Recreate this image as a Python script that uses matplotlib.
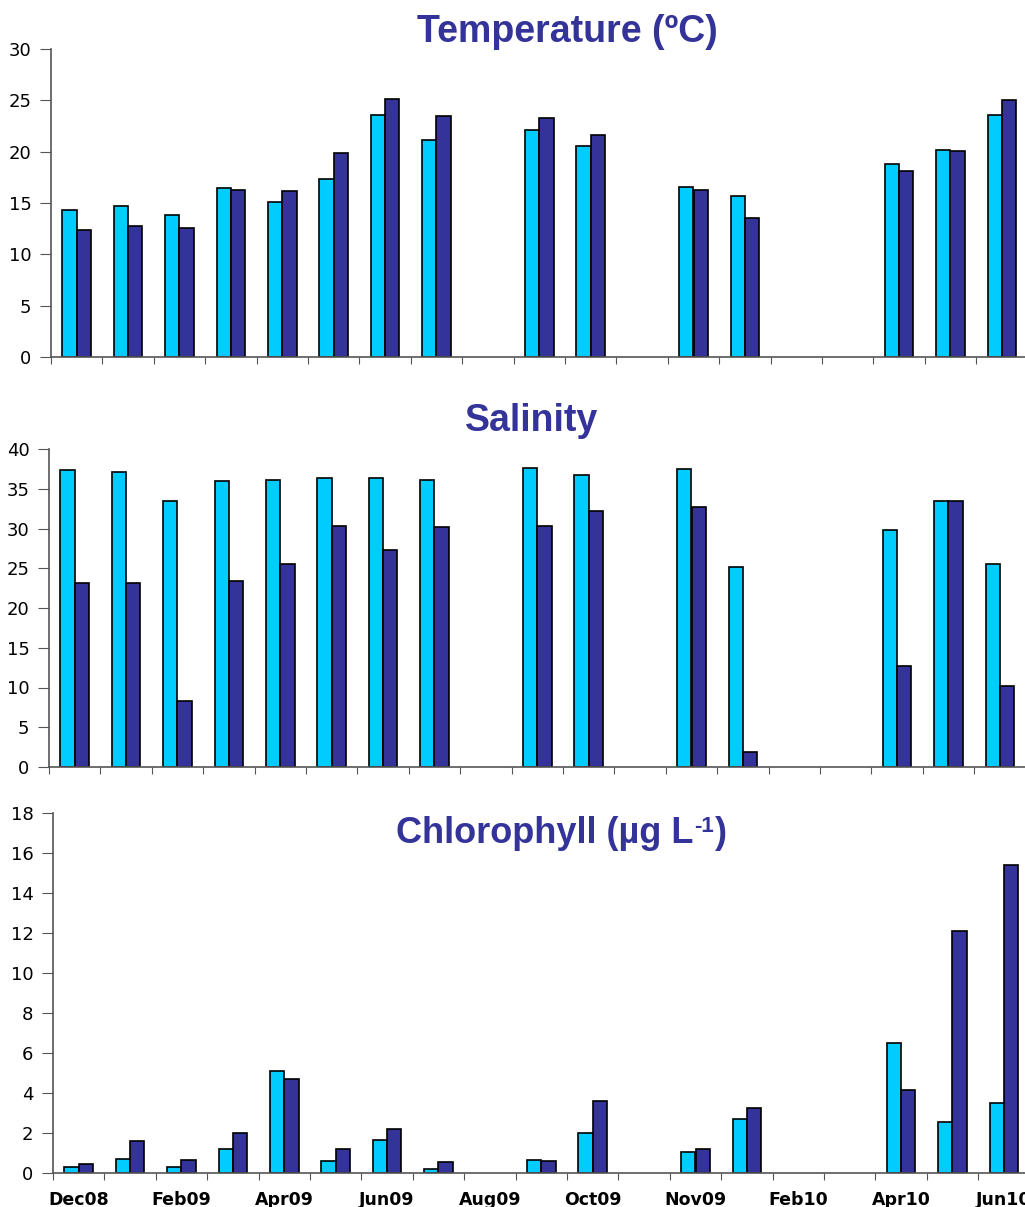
#!/usr/bin/env python3
"""Monthly temperature, salinity and chlorophyll, two stations side by side."""

import matplotlib
matplotlib.use("Agg")
import matplotlib.pyplot as plt
import numpy as np

# 19 sampling slots; None = no sample
months = ["Dec08", "Jan09", "Feb09", "Mar09", "Apr09", "May09", "Jun09", "Jul09",
          "Aug09", "Sep09", "Oct09", "Oct09b", "Nov09", "Dec09", "Feb10", "Mar10",
          "Apr10", "May10", "Jun10"]
tick_labels = ["Dec08", "Feb09", "Apr09", "Jun09", "Aug09", "Oct09", "Nov09",
               "Feb10", "Apr10", "Jun10"]

temp_a = [14.35, 14.7, 13.8, 16.5, 15.1, 17.35, 23.6, 21.1, None, 22.1, 20.6, None,
          16.6, 15.65, None, None, 18.8, 20.2, 23.6]
temp_b = [12.4, 12.8, 12.55, 16.25, 16.15, 19.85, 25.1, 23.45, None, 23.25, 21.65, None,
          16.25, 13.5, None, None, 18.15, 20.1, 25.0]

sal_a = [37.3, 37.1, 33.4, 36.0, 36.15, 36.3, 36.3, 36.1, None, 37.65, 36.7, None,
         37.5, 25.1, None, None, 29.8, 33.45, 25.5]
sal_b = [23.2, 23.2, 8.3, 23.4, 25.5, 30.35, 27.25, 30.15, None, 30.35, 32.25, None,
         32.65, 1.9, None, None, 12.75, 33.45, 10.2]

chl_a = [0.32, 0.7, 0.32, 1.18, 5.1, 0.6, 1.65, 0.22, None, 0.65, 1.98, None,
         1.06, 2.7, None, None, 6.5, 2.55, 3.5]
chl_b = [0.43, 1.6, 0.65, 1.98, 4.72, 1.18, 2.18, 0.55, None, 0.6, 3.6, None,
         1.18, 3.23, None, None, 4.13, 12.1, 15.4]

CYAN = "#00CCFF"
NAVY = "#333399"
W = 0.28
CAT_W = 51.4 / 1025


def to_arr(vals):
    return np.array([np.nan if v is None else v for v in vals], dtype=float)


def bar_panel(rect, a, b, ymax, ystep, show_labels):
    ax = fig.add_axes(rect)
    x = np.arange(len(months))
    ax.bar(x - W / 2, to_arr(a), W, color=CYAN, edgecolor="black", linewidth=1.2)
    ax.bar(x + W / 2, to_arr(b), W, color=NAVY, edgecolor="black", linewidth=1.2)
    ax.set_xlim(-0.5, len(months) - 0.5)
    ax.set_ylim(0, ymax)
    ax.set_yticks(np.arange(0, ymax + ystep / 2, ystep))
    ax.set_xticks(np.arange(-0.5, len(months), 1.0))
    ax.set_xticklabels([])
    ax.set_xticks(np.arange(0, len(months), 2), minor=True)
    if show_labels:
        ax.set_xticklabels(tick_labels, minor=True, fontsize=12.5,
                           fontweight="bold", family="DejaVu Sans")
    ax.tick_params(axis="x", which="major", length=5, direction="out", color="#555555")
    ax.tick_params(axis="x", which="minor", length=0, pad=13)
    ax.tick_params(axis="y", length=8, direction="out", color="#555555",
                   labelsize=13, pad=6)
    for lab in ax.get_yticklabels():
        lab.set_family("DejaVu Sans")
    for side in ("top", "right"):
        ax.spines[side].set_visible(False)
    for side in ("left", "bottom"):
        ax.spines[side].set_color("#555555")
        ax.spines[side].set_linewidth(1.2)
    return ax


fig = plt.figure(figsize=(10.25, 12.07), dpi=100)

bar_panel([51 / 1025, 1 - 357 / 1207, 19 * CAT_W, 308 / 1207], temp_a, temp_b, 30, 5, False)
bar_panel([49 / 1025, 1 - 767 / 1207, 19 * CAT_W, 318 / 1207], sal_a, sal_b, 40, 5, False)
bar_panel([53 / 1025, 1 - 1173 / 1207, 19 * CAT_W, 360 / 1207], chl_a, chl_b, 18, 2, True)

title_kw = dict(va="baseline", color=NAVY, fontweight="bold", family="Liberation Sans")
fig.text(567 / 1025, 1 - 42 / 1207, "Temperature (ºC)", fontsize=27, ha="center", **title_kw)
fig.text(532 / 1025, 1 - 431 / 1207, "Salinity", fontsize=27, ha="center", **title_kw)

# chlorophyll title with a plain "-1" superscript, laid out piece by piece
renderer = fig.canvas.get_renderer()
base_y = 1 - 843 / 1207
t1 = fig.text(396 / 1025, base_y, "Chlorophyll (µg L", fontsize=26, ha="left", **title_kw)
x1 = t1.get_window_extent(renderer).x1 / 1025
t2 = fig.text(x1 + 1 / 1025, base_y + 11 / 1207, "-1", fontsize=16, ha="left", **title_kw)
x2 = t2.get_window_extent(renderer).x1 / 1025
fig.text(x2 + 1 / 1025, base_y, ")", fontsize=26, ha="left", **title_kw)

fig.savefig("out.png", dpi=100)
